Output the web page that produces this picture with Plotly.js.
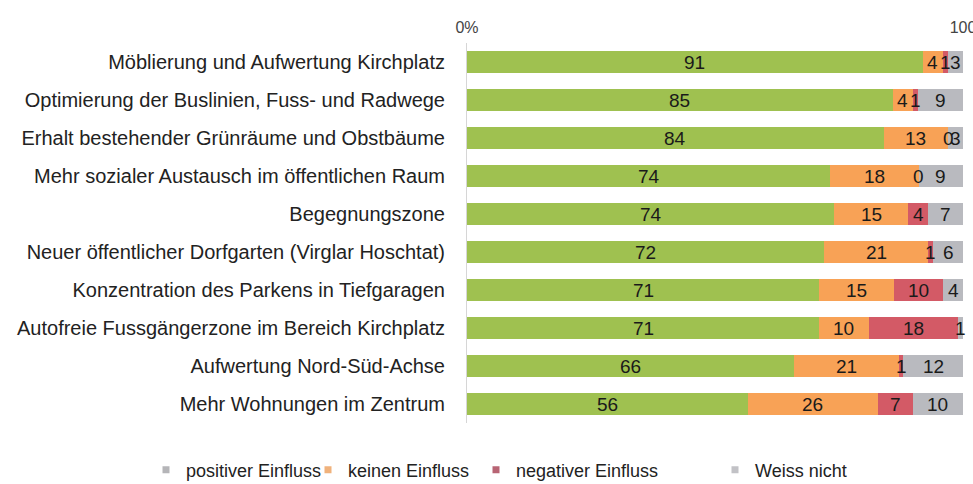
<!DOCTYPE html>
<html><head><meta charset="utf-8">
<script src="https://cdn.plot.ly/plotly-3.0.1.min.js"></script>
<style>html,body{margin:0;padding:0;background:#fff}</style>
</head><body>
<div id="chart" style="width:973px;height:484px"></div>
<script>
const categories = [
  "Möblierung und Aufwertung Kirchplatz",
  "Optimierung der Buslinien, Fuss- und Radwege",
  "Erhalt bestehender Grünräume und Obstbäume",
  "Mehr sozialer Austausch im öffentlichen Raum",
  "Begegnungszone",
  "Neuer öffentlicher Dorfgarten (Virglar Hoschtat)",
  "Konzentration des Parkens in Tiefgaragen",
  "Autofreie Fussgängerzone im Bereich Kirchplatz",
  "Aufwertung Nord-Süd-Achse",
  "Mehr Wohnungen im Zentrum"
];
const positiv = [91, 85, 84, 74, 74, 72, 71, 71, 66, 56];
const keinen  = [4, 4, 13, 18, 15, 21, 15, 10, 21, 26];
const negativ = [1, 1, 0, 0, 4, 1, 10, 18, 1, 7];
const weiss   = [3, 9, 3, 9, 7, 6, 4, 1, 12, 10];
const seriesNames = ["positiver Einfluss", "keinen Einfluss", "negativer Einfluss", "Weiss nicht"];
const xTickVals = [0, 100];
const xTickText = ["0%", "100"];

const series = [positiv, keinen, negativ, weiss];
const colors = ["#9fc150", "#f8a256", "#d35a66", "#b9babf"];
const legendKeyColors = ["#b5b5b8", "#f0b27c", "#b86474", "#c2c2c6"];
const legendIds = ["legend", "legend2", "legend3", "legend4"];
const legendX = [146, 308, 476, 715];

const traces = series.map((vals, i) => ({
  type: "bar", orientation: "h", name: seriesNames[i],
  y: categories, x: vals, showlegend: false,
  marker: {color: colors[i], line: {width: 0}},
  hoverinfo: "none"
}));
// legend keys (small squares as in the reference)
seriesNames.forEach((nm, i) => {
  traces.push({type: "scatter", mode: "markers", name: nm, x: [null], y: [null],
    legend: legendIds[i], showlegend: true, hoverinfo: "none",
    marker: {symbol: "square", size: 7, color: legendKeyColors[i]}});
});

// value labels, centred in each normalised segment
const annotations = [];
categories.forEach((cat, r) => {
  const total = series.reduce((s, arr) => s + arr[r], 0);
  let cum = 0;
  series.forEach((arr) => {
    const v = arr[r];
    const mid = (cum + v / 2) / total * 100;
    cum += v;
    annotations.push({
      x: mid, y: cat, xref: "x", yref: "y", text: String(v),
      showarrow: false, font: {size: 19, color: "#1a1a1a"}
    });
  });
});

const layout = {
  width: 973, height: 484,
  margin: {l: 467, r: 10, t: 43, b: 61},
  paper_bgcolor: "#fff", plot_bgcolor: "#fff",
  font: {family: "Liberation Sans, Arial, sans-serif", color: "#222"},
  barmode: "stack", barnorm: "percent", bargap: 0.42,
  showlegend: true,
  xaxis: {side: "top", range: [0, 100], tickvals: xTickVals, ticktext: xTickText,
          showgrid: false, zeroline: false, showline: false, ticks: "",
          ticklabeloverflow: "allow", ticklabelstandoff: 6,
          tickfont: {size: 16, color: "#444"}, fixedrange: true},
  yaxis: {autorange: "reversed", showline: true, linecolor: "#d6d6d6", linewidth: 1,
          ticks: "", showgrid: false, tickfont: {size: 20, color: "#222"}, ticklabelstandoff: 17},
  annotations: annotations
};
legendIds.forEach((id, i) => {
  layout[id] = {orientation: "h", xref: "container", yref: "container",
    x: legendX[i] / 973, xanchor: "left", y: 14 / 484, yanchor: "middle",
    font: {size: 18, color: "#222"}, itemwidth: 30, bgcolor: "rgba(0,0,0,0)"};
});

Plotly.newPlot("chart", traces, layout, {displayModeBar: false, staticPlot: true});
</script>
</body></html>
